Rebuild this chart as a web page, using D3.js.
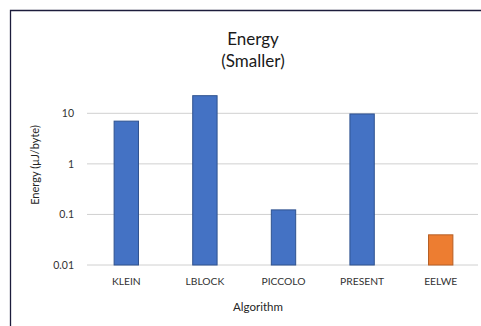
<!DOCTYPE html>
<html><head><meta charset="utf-8">
<script src="https://cdn.jsdelivr.net/npm/d3@7"></script>
<style>body{margin:0;background:#fff;} text{font-family:Lato, "Liberation Sans", sans-serif;}</style>
</head><body>
<svg id="c" width="481" height="326"></svg>
<script>
const categories = ["KLEIN","LBLOCK","PICCOLO","PRESENT","EELWE"];
const values = [7.0, 22.3, 0.123, 9.7, 0.0395];
const highlight = ["EELWE"];
const yTicks = [0.01, 0.1, 1, 10];
const yTickLabels = ["0.01","0.1","1","10"];

const svg = d3.select("#c");
svg.append("rect").attr("width",481).attr("height",326).attr("fill","#fff");
svg.append("path").attr("d","M10.5,326 V10.5 H481").attr("fill","none").attr("stroke","#1c1c3c").attr("stroke-width",1.3);

const x = d3.scaleBand().domain(categories).range([87,480]).paddingInner(0.69).paddingOuter(0.345);
const y = d3.scaleLog().domain([0.01,10]).range([265,113.3]);

const grid = svg.append("g");
yTicks.forEach(t=>{
  grid.append("line").attr("x1",87).attr("x2",478).attr("y1",y(t)).attr("y2",y(t))
    .attr("stroke","#d0d0d0").attr("stroke-width",1);
});
const yAxis = d3.axisLeft(y).tickValues(yTicks).tickFormat((d,i)=>yTickLabels[i]).tickSize(0).tickPadding(0);
const ga = svg.append("g").attr("transform","translate(74,0)").call(yAxis);
ga.select(".domain").remove();
ga.selectAll("text").attr("font-size","10.5px").attr("fill","#333").attr("font-family","Lato, sans-serif");

svg.append("g").selectAll("rect").data(categories).join("rect")
  .attr("x",d=>x(d)).attr("width",x.bandwidth())
  .attr("y",(d,i)=>y(values[i])).attr("height",(d,i)=>y(0.01)-y(values[i]))
  .attr("fill",d=>highlight.includes(d)?"#ED7D31":"#4472C4")
  .attr("stroke",d=>highlight.includes(d)?"#B65F24":"#2F528F").attr("stroke-width",1);

const xAxis = d3.axisBottom(x).tickSize(0).tickPadding(0);
const gx = svg.append("g").attr("transform","translate(0,278)").call(xAxis);
gx.select(".domain").remove();
gx.selectAll("text").attr("font-size","10.3px").attr("fill","#333").attr("font-family","Lato, sans-serif");

svg.append("text").attr("x",253).attr("y",45).attr("text-anchor","middle").attr("font-size","17px").attr("fill","#1a1a1a").text("Energy");
svg.append("text").attr("x",253).attr("y",66.5).attr("text-anchor","middle").attr("font-size","17px").attr("fill","#1a1a1a").text("(Smaller)");
svg.append("text").attr("x",258).attr("y",311).attr("text-anchor","middle").attr("font-size","11.5px").attr("fill","#262626").text("Algorithm");
svg.append("text").attr("transform","translate(39,165) rotate(-90)").attr("text-anchor","middle").attr("font-size","11px").attr("fill","#262626").text("Energy (µJ/byte)");
</script>
</body></html>
